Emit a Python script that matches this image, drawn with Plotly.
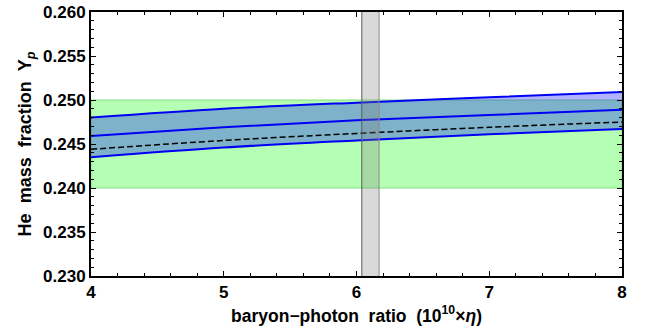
import plotly.graph_objects as go

eta = [4, 5, 6, 7, 8]
yp_upper = [0.2480, 0.2490, 0.2497, 0.2503, 0.2509]
yp_central = [0.2459, 0.2469, 0.2477, 0.2483, 0.2489]
yp_lower = [0.2435, 0.2446, 0.2454, 0.2461, 0.2467]
yp_dashed = [0.2444, 0.2454, 0.2462, 0.2469, 0.2475]

obs_band = [0.240, 0.250]
eta_band = [6.04, 6.17]

x_range = [4, 8]
y_range = [0.230, 0.260]
x_ticks = [4, 5, 6, 7, 8]
y_ticks = [0.230, 0.235, 0.240, 0.245, 0.250, 0.255, 0.260]

fig = go.Figure()

# green observational band
fig.add_shape(type="rect", xref="x", yref="y", x0=x_range[0], x1=x_range[1],
              y0=obs_band[0], y1=obs_band[1], layer="below",
              fillcolor="rgb(180,255,180)", line=dict(color="rgb(130,225,130)", width=1))

# blue theoretical band
blue = "rgb(0,0,245)"
fig.add_trace(go.Scatter(x=eta, y=yp_lower, mode="lines", line=dict(color=blue, width=2, shape="spline"),
                         hoverinfo="skip", showlegend=False))
fig.add_trace(go.Scatter(x=eta, y=yp_upper, mode="lines", fill="tonexty", fillcolor="rgba(0,0,255,0.3)",
                         line=dict(color=blue, width=2, shape="spline"), hoverinfo="skip", showlegend=False))
fig.add_trace(go.Scatter(x=eta, y=yp_central, mode="lines", line=dict(color=blue, width=2, shape="spline"),
                         hoverinfo="skip", showlegend=False))
fig.add_trace(go.Scatter(x=eta, y=yp_dashed, mode="lines", line=dict(color="black", width=1.5, dash="6px,3px", shape="spline"),
                         hoverinfo="skip", showlegend=False))

# vertical eta band
fig.add_shape(type="rect", xref="x", yref="y", x0=eta_band[0], x1=eta_band[1],
              y0=y_range[0], y1=y_range[1], layer="above",
              fillcolor="rgba(128,128,128,0.3)", line=dict(width=0))
fig.add_shape(type="line", xref="x", yref="y", x0=eta_band[0], x1=eta_band[0],
              y0=y_range[0], y1=y_range[1], layer="above", line=dict(color="rgb(90,90,90)", width=1))
fig.add_shape(type="line", xref="x", yref="y", x0=eta_band[1], x1=eta_band[1],
              y0=y_range[0], y1=y_range[1], layer="above", line=dict(color="rgb(140,140,140)", width=1))

fam = "Liberation Sans, Arial, sans-serif"
font = dict(family=fam, size=17, color="black")
axis_common = dict(showgrid=False, zeroline=False, showline=True, linecolor="black", linewidth=2,
                   mirror="ticks", ticks="inside", ticklen=5, tickwidth=1, tickcolor="black",
                   automargin=False)

fig.update_xaxes(range=x_range, tickvals=x_ticks, ticktext=[f"<b>{v}</b>" for v in x_ticks],
                 minor=dict(dtick=0.2, ticks="inside", ticklen=3, tickcolor="black"),
                 title=dict(text="<b>baryon−photon&nbsp;&nbsp;ratio&nbsp;&nbsp;(10<sup>10</sup>×<i>η</i>)</b>",
                            font=dict(family=fam, size=17.5, color="black"), standoff=8),
                 tickfont=font, **axis_common)
fig.update_yaxes(range=y_range, tickvals=y_ticks, ticktext=[f"<b>{v:.3f}</b>" for v in y_ticks],
                 minor=dict(dtick=0.001, ticks="inside", ticklen=3, tickcolor="black"),
                 title=dict(text="<b>He&nbsp;&nbsp;mass&nbsp;&nbsp;fraction&nbsp;&nbsp;Y<sub><i>p</i></sub></b>",
                            font=dict(family=fam, size=18, color="black"), standoff=7),
                 tickfont=font, **axis_common)

fig.update_layout(width=647, height=336, margin=dict(l=91, r=25, t=12, b=60, autoexpand=False),
                  plot_bgcolor="white", paper_bgcolor="white", font=font)

fig.write_html("out.html", config={"displayModeBar": False},
               post_script="document.body.style.margin='0px';")
